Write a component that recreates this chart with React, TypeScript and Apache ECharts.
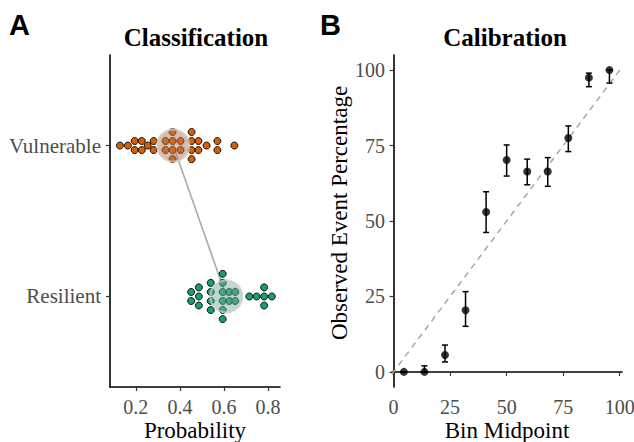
import React, { useEffect, useRef } from "react";
import * as echarts from "echarts";

// ---- Panel A: classification (probabilities per group) ----
const groupNames = ["Resilient", "Vulnerable"]; // y levels 1, 2
const vulnerableProb = [
  0.128, 0.164, 0.195, 0.195, 0.227, 0.227, 0.254, 0.281, 0.281, 0.335, 0.335,
  0.367, 0.367, 0.367, 0.367, 0.403, 0.403, 0.453, 0.453, 0.453, 0.453, 0.484,
  0.484, 0.521, 0.57, 0.57, 0.647,
];
const resilientProb = [
  0.451, 0.451, 0.486, 0.486, 0.486, 0.54, 0.54, 0.54, 0.54, 0.594, 0.594,
  0.594, 0.594, 0.594, 0.594, 0.624, 0.624, 0.651, 0.651, 0.715, 0.748, 0.782,
  0.782, 0.782, 0.817,
];
const probTicks = [0.2, 0.4, 0.6, 0.8];

// ---- Panel B: calibration ----
const binMidpoint = [4.55, 13.64, 22.73, 31.82, 40.91, 50, 59.09, 68.18, 77.27, 86.36, 95.45];
const observedPct = [0, 0, 5.6, 20.4, 53, 70.2, 66.4, 66.4, 77.5, 97.5, 100];
const lowerPct = [0, 0, 3.3, 15.1, 46.2, 64.9, 62, 61.5, 73, 94.5, 95.7];
const upperPct = [0, 2, 8.9, 26.6, 59.7, 75.2, 70.5, 71, 81.5, 99, 100];
const pctTicks = [0, 25, 50, 75, 100];

const SERIF = "Liberation Serif";
const SANS = "Liberation Sans";
const ORANGE = "#D95F02";
const GREEN = "#1B9E77";

function stackDots(values: number[], level: number, step: number) {
  const counts = new Map<number, number>();
  values.forEach((v) => counts.set(v, (counts.get(v) || 0) + 1));
  const seen = new Map<number, number>();
  return values.map((v) => {
    const n = counts.get(v) || 1;
    const k = seen.get(v) || 0;
    seen.set(v, k + 1);
    return [v, level + (k - (n - 1) / 2) * step];
  });
}

const mean = (a: number[]) => a.reduce((s, v) => s + v, 0) / a.length;

export default function App() {
  const ref = useRef<HTMLDivElement>(null);
  useEffect(() => {
    if (!ref.current) return;
    const chart = echarts.init(ref.current, undefined, { renderer: "svg" });
    const meanV = mean(vulnerableProb);
    const meanR = mean(resilientProb);
    const STEP = 0.06;

    const axisLine = { show: true, lineStyle: { color: "#000", width: 1.6 } };
    const axisTick = { show: true, length: 4, lineStyle: { color: "#333", width: 1.2 } };
    const labelBase = { color: "#4d4d4d", fontFamily: SERIF, fontSize: 20 };
    const nameStyle = { color: "#000", fontFamily: SERIF, fontSize: 23, lineHeight: 22 };

    const option: any = {
      animation: false,
      backgroundColor: "#fff",
      title: [
        { text: "A", left: 4, top: 5, textStyle: { fontFamily: SANS, fontWeight: "bold", fontSize: 29, color: "#000" } },
        { text: "B", left: 315, top: 5, textStyle: { fontFamily: SANS, fontWeight: "bold", fontSize: 29, color: "#000" } },
        { text: "Classification", left: 191, top: 20, textAlign: "center", textStyle: { fontFamily: SERIF, fontWeight: "bold", fontSize: 25, color: "#000" } },
        { text: "Calibration", left: 500, top: 20, textAlign: "center", textStyle: { fontFamily: SERIF, fontWeight: "bold", fontSize: 25, color: "#000" } },
      ],
      grid: [
        { left: 110, top: 55, width: 170, height: 332, outerBoundsMode: "none", containLabel: false },
        { left: 392, top: 55, width: 230, height: 332, outerBoundsMode: "none", containLabel: false },
      ],
      xAxis: [
        {
          gridIndex: 0, type: "value", min: 0.083, max: 0.854,
          splitLine: { show: false }, axisLine, axisTick: { ...axisTick, customValues: probTicks },
          axisLabel: { ...labelBase, lineHeight: 18, margin: 11, customValues: probTicks, formatter: (v: number) => v.toFixed(1) },
          name: "Probability", nameLocation: "middle", nameGap: 32, nameMoveOverlap: false, nameTextStyle: nameStyle,
        },
        {
          gridIndex: 1, type: "value", min: -0.7, max: 101,
          splitLine: { show: false }, axisLine, axisTick: { ...axisTick, customValues: pctTicks },
          axisLabel: { ...labelBase, lineHeight: 18, margin: 11, customValues: pctTicks },
          name: "Bin Midpoint", nameLocation: "middle", nameGap: 32, nameMoveOverlap: false, nameTextStyle: nameStyle,
        },
      ],
      yAxis: [
        {
          gridIndex: 0, type: "value", min: 0.4, max: 2.6,
          splitLine: { show: false }, axisLine, axisTick: { ...axisTick, customValues: [1, 2] },
          axisLabel: { ...labelBase, fontSize: 21, margin: 9, customValues: [1, 2], formatter: (v: number) => groupNames[Math.round(v) - 1] },
        },
        {
          gridIndex: 1, type: "value", min: -5, max: 105,
          splitLine: { show: false }, axisLine, axisTick: { ...axisTick, customValues: pctTicks },
          axisLabel: { ...labelBase, margin: 7, customValues: pctTicks },
          name: "Observed Event Percentage", nameLocation: "middle", nameGap: 41,
          nameTextStyle: { color: "#000", fontFamily: SERIF, fontSize: 23, padding: [0, 0, 0, 16] },
        },
      ],
      series: [
        {
          type: "line", xAxisIndex: 0, yAxisIndex: 0, symbol: "none", z: 1,
          lineStyle: { color: "#aaaaaa", width: 1.6 },
          data: [[meanV, 2], [meanR, 1]],
        },
        {
          type: "scatter", xAxisIndex: 0, yAxisIndex: 0, symbolSize: 7, z: 2,
          itemStyle: { color: ORANGE, borderColor: "#000", borderWidth: 0.9, opacity: 1 },
          data: stackDots(vulnerableProb, 2, STEP),
        },
        {
          type: "scatter", xAxisIndex: 0, yAxisIndex: 0, symbolSize: 7, z: 2,
          itemStyle: { color: GREEN, borderColor: "#000", borderWidth: 0.9, opacity: 1 },
          data: stackDots(resilientProb, 1, STEP),
        },
        {
          type: "scatter", xAxisIndex: 0, yAxisIndex: 0, symbolSize: 32, z: 3,
          itemStyle: { color: "rgba(185,122,85,0.62)", borderColor: "rgba(205,205,205,0.95)", borderWidth: 2 },
          data: [[meanV, 2]],
        },
        {
          type: "scatter", xAxisIndex: 0, yAxisIndex: 0, symbolSize: 32, z: 3,
          itemStyle: { color: "rgba(115,175,152,0.6)", borderColor: "rgba(205,205,205,0.95)", borderWidth: 2 },
          data: [[meanR, 1]],
        },
        {
          type: "line", xAxisIndex: 1, yAxisIndex: 1, symbol: "none", z: 1,
          lineStyle: { color: "#a6a6a6", width: 1.5, type: [6, 5] },
          data: [[-0.7, -0.7], [101, 101]],
        },
        {
          type: "custom", xAxisIndex: 1, yAxisIndex: 1, z: 2,
          data: binMidpoint.map((x, i) => [x, lowerPct[i], upperPct[i]]),
          renderItem: (params: any, api: any) => {
            const x = api.value(0);
            const lo = api.coord([x, api.value(1)]);
            const hi = api.coord([x, api.value(2)]);
            const w = 3;
            const st = { stroke: "#000", lineWidth: 1.5 };
            return {
              type: "group",
              children: [
                { type: "line", shape: { x1: lo[0], y1: lo[1], x2: hi[0], y2: hi[1] }, style: st },
                { type: "line", shape: { x1: lo[0] - w, y1: lo[1], x2: lo[0] + w, y2: lo[1] }, style: st },
                { type: "line", shape: { x1: hi[0] - w, y1: hi[1], x2: hi[0] + w, y2: hi[1] }, style: st },
              ],
            };
          },
        },
        {
          type: "scatter", xAxisIndex: 1, yAxisIndex: 1, symbolSize: 8, z: 3,
          itemStyle: { color: "#000" },
          data: binMidpoint.map((x, i) => [x, observedPct[i]]),
        },
      ],
    };
    chart.setOption(option);
    return () => chart.dispose();
  }, []);
  return (
    <div
      ref={ref}
      style={{ position: "fixed", left: 0, top: 0, width: 634, height: 442, background: "#fff" }}
    />
  );
}
